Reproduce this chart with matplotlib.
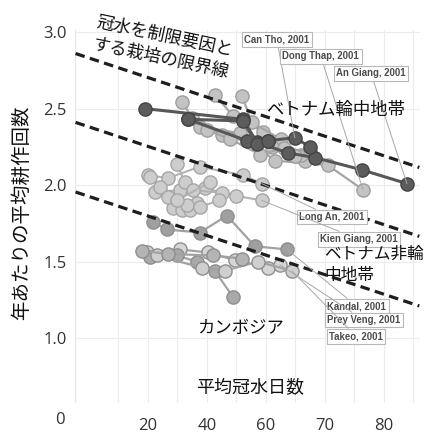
import matplotlib
matplotlib.use("Agg")
import matplotlib.pyplot as plt

plt.rcParams['font.family'] = ['Noto Sans CJK JP', 'DejaVu Sans']

# ---- axis ticks -------------------------------------------------------
x_tick_pos = [20, 40, 60, 80, 100]
x_tick_labels = ['20', '40', '60', '70', '80']
y_tick_pos = [1.0, 1.5, 2.0, 2.5, 3.0]
y_tick_labels = ['1.0', '1.5', '2.0', '2.5', '3.0']
x_grid = [10, 20, 30, 40, 50, 60, 70, 80, 90, 100, 110]

# ---- limit lines (dashed) -----------------------------------------------
limit_x = [-4.5, 112.0]
limit_upper = [2.86, 2.115]
limit_middle = [2.41, 1.665]
limit_lower = [1.955, 1.21]

# ---- Vietnam, dyke zone: dark trajectories -------------------------------
dyke_dark_x = [
    [19.0, 52.2, 57.0, 67.5, 76.6, 92.5, 107.8],
    [33.6, 53.6, 60.7, 69.8, 74.9],
    [33.6, 52.2, 56.9, 60.7],
]
dyke_dark_y = [
    [2.50, 2.43, 2.28, 2.21, 2.18, 2.10, 2.01],
    [2.43, 2.29, 2.29, 2.31, 2.25],
    [2.43, 2.42, 2.27, 2.29],
]

# ---- Vietnam, dyke zone: light trajectories ------------------------------
dyke_light_x = [
    [31.5, 37.6, 51.2, 63.1, 81.0, 92.9],
    [42.7, 49.0, 59.0, 73.2],
    [51.9, 55.3, 65.0, 72.0],
    [34.9, 45.0, 62.0, 75.0],
    [40.0, 48.0, 58.0, 66.0, 70.0],
]
dyke_light_y = [
    [2.54, 2.38, 2.34, 2.16, 2.13, 1.97],
    [2.59, 2.45, 2.35, 2.16],
    [2.58, 2.41, 2.30, 2.20],
    [2.44, 2.33, 2.25, 2.22],
    [2.36, 2.30, 2.20, 2.24, 2.19],
]

# ---- Vietnam, outside dyke zone ------------------------------------------
nondyke_x = [
    [20.0, 26.8, 37.6, 52.2, 58.6],
    [22.4, 30.8, 39.3, 50.0, 58.6],
    [29.8, 32.5, 35.3, 45.0],
    [28.5, 31.5, 34.2, 36.6],
    [20.7, 33.2, 37.6, 44.0],
    [24.0, 27.0, 30.0, 41.0],
]
nondyke_y = [
    [2.065, 2.046, 2.12, 2.065, 2.01],
    [1.954, 1.967, 1.98, 1.93, 1.90],
    [2.14, 2.02, 1.967, 1.95],
    [1.85, 1.837, 1.837, 1.88],
    [2.05, 1.87, 1.856, 1.90],
    [1.99, 1.92, 1.90, 2.02],
]

# ---- Cambodia --------------------------------------------------------------
cambodia_x = [
    [21.7, 26.4, 37.6, 46.8, 56.3, 67.1],
    [19.7, 30.8, 40.3, 49.5, 60.7, 64.7],
    [20.7, 29.8, 36.6, 42.7, 48.8],
    [23.1, 38.3, 46.1, 57.3, 68.8],
    [18.0, 27.0, 42.0, 52.0],
]
cambodia_y = [
    [1.76, 1.71, 1.69, 1.80, 1.60, 1.58],
    [1.56, 1.58, 1.56, 1.51, 1.46, 1.48],
    [1.53, 1.54, 1.50, 1.44, 1.27],
    [1.54, 1.46, 1.44, 1.50, 1.44],
    [1.57, 1.55, 1.54, 1.52],
]
cambodia_fill = ['#9f9f9f', '#d6d6d6', '#a9a9a9', '#cfcfcf', '#b4b4b4']

# ---- province call-outs: (label, target x, target y, box x, box y) ---------
callout_labels = ['Can Tho, 2001', 'Dong Thap, 2001', 'An Giang, 2001',
                  'Long An, 2001', 'Kien Giang, 2001',
                  'Kandal, 2001', 'Prey Veng, 2001', 'Takeo, 2001']
callout_target_x = [69.8, 92.9, 107.8, 58.6, 58.6, 67.1, 64.7, 68.8]
callout_target_y = [2.31, 1.97, 2.01, 2.01, 1.90, 1.58, 1.48, 1.44]
callout_box_x = [63.7, 78.6, 95.6, 82.4, 91.5, 90.8, 93.2, 90.5]
callout_box_y = [2.954, 2.843, 2.732, 1.791, 1.647, 1.209, 1.118, 1.013]

fig = plt.figure(figsize=(4.25, 4.43), dpi=100)
ax = fig.add_axes([0.176, 0.090, 0.812, 0.842])
ax.set_xlim(-4.75, 112.2)
ax.set_ylim(0.575, 3.013)

for s in ax.spines.values():
    s.set_visible(False)
ax.axvline(-4.75, color='#e6e6e6', lw=0.9, zorder=0)
for gx in x_grid:
    ax.axvline(gx, color='#ececec', lw=0.8, zorder=0)
for gy in y_tick_pos:
    ax.axhline(gy, color='#ececec', lw=0.8, zorder=0)

ms = 9.5


def draw_paths(xs, ys, line_c, lw, face, edge, z):
    for i, (px, py) in enumerate(zip(xs, ys)):
        fc = face[i % len(face)] if isinstance(face, list) else face
        ax.plot(px, py, '-', color=line_c, lw=lw, zorder=z,
                marker='o', ms=ms, mfc=fc, mec=edge, mew=1.0)


draw_paths(cambodia_x, cambodia_y, '#a2a2a2', 1.6, cambodia_fill, '#8e8e8e', 3)
draw_paths(nondyke_x, nondyke_y, '#b3b3b3', 1.5, '#cdcdcd', '#a6a6a6', 3)
draw_paths(dyke_light_x, dyke_light_y, '#a5a5a5', 1.6, '#c3c3c3', '#9e9e9e', 3)
draw_paths(dyke_dark_x, dyke_dark_y, '#575757', 2.2, '#5c5c5c', '#444444', 4)

for ly in (limit_upper, limit_middle, limit_lower):
    ax.plot(limit_x, ly, color='#1e1e1e', lw=2.3, dashes=(3.0, 1.7),
            zorder=6, clip_on=False)

for lab, tx, ty, bx, by in zip(callout_labels, callout_target_x, callout_target_y,
                               callout_box_x, callout_box_y):
    ax.annotate(lab, xy=(tx, ty), xytext=(bx, by), ha='center', va='center',
                fontsize=6.9, family='Liberation Sans', color='#4a4a4a',
                fontweight='bold', zorder=7,
                bbox=dict(boxstyle='square,pad=0.25', fc='white', ec='#b8b8b8', lw=0.8),
                arrowprops=dict(arrowstyle='-', color='#a8a8a8', lw=0.7,
                                shrinkA=0, shrinkB=0))

ax.text(25.0, 2.90, '冠水を制限要因と\nする栽培の限界線', rotation=-12,
        rotation_mode='anchor', ha='center', va='center', fontsize=12.5,
        linespacing=1.3, color='#111111', zorder=8)
ax.text(83.7, 2.49, 'ベトナム輪中地帯', ha='center', va='center',
        fontsize=12.5, color='#111111', zorder=8)
ax.text(79.8, 1.48, 'ベトナム非輪\n中地帯', ha='left', va='center',
        fontsize=12, linespacing=1.35, color='#111111', zorder=8, clip_on=False)
ax.text(51.5, 1.065, 'カンボジア', ha='center', va='center',
        fontsize=12.5, color='#111111', zorder=8)
ax.text(54.6, 0.673, '平均冠水日数', ha='center', va='center',
        fontsize=13, color='#111111', zorder=8)

ax.set_xticks(x_tick_pos)
ax.set_xticklabels(x_tick_labels, family='Open Sans', fontsize=12, color='#333333')
ax.set_yticks(y_tick_pos)
ax.set_yticklabels(y_tick_labels, family='Open Sans', fontsize=12, color='#333333')
ax.tick_params(axis='x', length=0, pad=11)
ax.tick_params(axis='y', length=0, pad=6)

fig.text(60 / 425, 1 - 420 / 443, '0', family='Open Sans', fontsize=12,
         color='#333333', ha='center', va='center')
fig.text(22 / 425, 1 - 213 / 443, '年あたりの平均耕作回数', rotation=90,
         ha='center', va='center', fontsize=14, color='#111111')

fig.savefig('out.png', dpi=100)
